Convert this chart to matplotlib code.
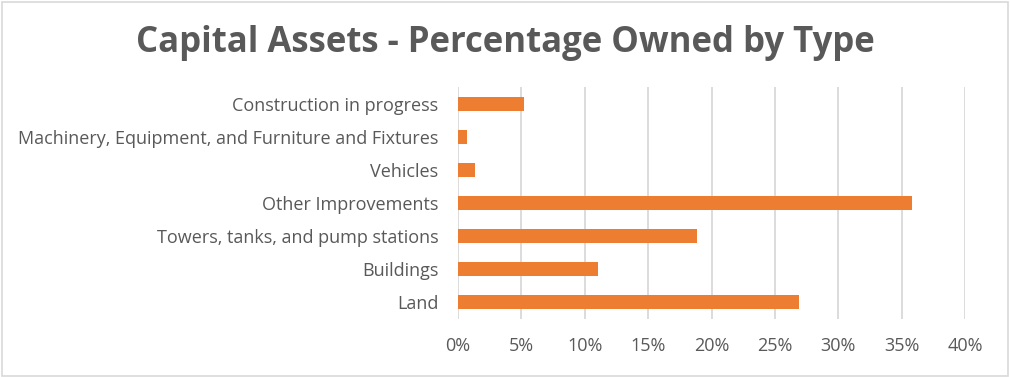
import matplotlib.pyplot as plt
from matplotlib.ticker import PercentFormatter, MultipleLocator

categories = ['Construction in progress',
              'Machinery, Equipment, and Furniture and Fixtures',
              'Vehicles',
              'Other Improvements',
              'Towers, tanks, and pump stations',
              'Buildings',
              'Land']
percent_owned = [5.24, 0.71, 1.34, 35.8, 18.85, 11.04, 26.9]

plt.rcParams['font.family'] = ['Open Sans', 'DejaVu Sans']

fig = plt.figure(figsize=(10.1, 3.77), dpi=100)
ax = fig.add_axes([0.4535, 0.155, 0.502, 0.613])

ypos = range(len(categories))
ax.barh(ypos, percent_owned, height=0.42, color='#ED7D31', zorder=3)
ax.set_yticks(list(ypos))
ax.set_yticklabels(categories)
ax.set_ylim(len(categories) - 0.5, -0.5)

ax.set_xlim(0, 40)
ax.xaxis.set_major_locator(MultipleLocator(5))
ax.xaxis.set_major_formatter(PercentFormatter(decimals=0))
ax.grid(axis='x', color='#D9D9D9', linewidth=1.3, zorder=0)

for s in ax.spines.values():
    s.set_visible(False)
ax.tick_params(length=0, labelsize=13, colors='#595959')
ax.tick_params(axis='y', pad=14)
ax.tick_params(axis='x', pad=13)

fig.text(0.5, 0.885, 'Capital Assets - Percentage Owned by Type',
         ha='center', va='center', fontsize=25, fontweight='bold', color='#595959')

# light frame around the chart
fig.patches.append(plt.Rectangle((0.002, 0.003), 0.996, 0.993, transform=fig.transFigure,
                                 fill=False, edgecolor='#D9D9D9', linewidth=1.2))

plt.savefig('out.png', dpi=100)
